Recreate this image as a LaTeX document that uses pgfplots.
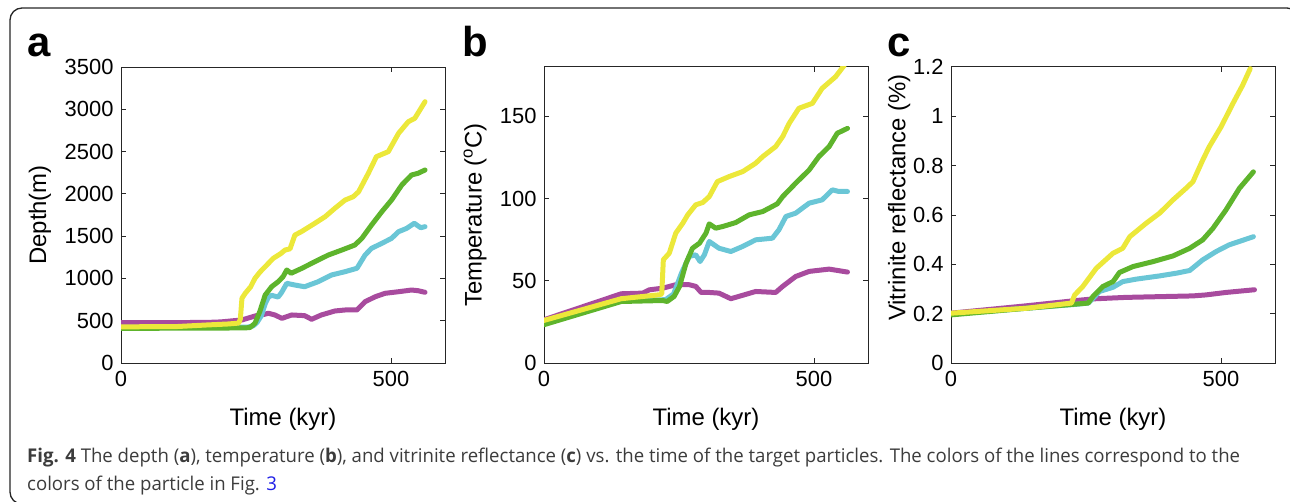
\documentclass[border=0pt]{standalone}
\usepackage{fontspec}
\setmainfont{Liberation Sans}
\newfontfamily\capfam{Open Sans}
\usepackage{graphicx}
\usepackage{pgfplots}
\pgfplotsset{compat=1.18}
\definecolor{cyel}{RGB}{236,232,58}
\definecolor{cgrn}{RGB}{94,180,44}
\definecolor{ccya}{RGB}{106,198,214}
\definecolor{cmag}{RGB}{168,75,158}
\definecolor{axcol}{RGB}{38,38,38}
\definecolor{capgray}{RGB}{60,60,60}
\definecolor{linkblue}{RGB}{30,30,230}
\newlength\capw
\newsavebox\capbox
\def\capfont{\capfam\fontsize{19}{22}\selectfont}
\def\lineone{\textbf{Fig. 4} The depth (\textbf{a}), temperature (\textbf{b}), and vitrinite reflectance (\textbf{c}) vs. the time of the target particles. The colors of the lines correspond to the}
\def\linetwo{colors of the particle in Fig. {\color{linkblue}3}}
\pgfplotsset{
  myax/.style={
    scale only axis, width=324bp, height=296bp,
    xmin=0, xmax=600, xtick={0,500},
    axis line style={draw=axcol, line width=1bp},
    every tick/.style={draw=axcol, line width=1bp},
    major tick length=5bp, tick align=inside,
    ticklabel style={font=\fontsize{22}{24}\selectfont, text=black},
    /pgf/number format/assume math mode=true,
    /pgf/number format/1000 sep={},
    xticklabel style={yshift=-5bp},
    yticklabel style={xshift=-4bp},
    label style={font=\fontsize{24}{28}\selectfont, text=black},
    xlabel={Time (kyr)},
    xlabel style={at={(axis description cs:0.5,-0.19)}, anchor=center},
    every axis plot/.append style={line width=5bp, line join=round, line cap=round},
  }
}
\begin{document}
\sbox\capbox{\capfont\lineone}%
\setlength\capw{\wd\capbox}%
\pgfmathsetmacro\capsx{1217.5/\the\capw}%
\begin{tikzpicture}[x=1bp,y=1bp]
\clip (0,0) rectangle (1290,-502);
\draw[line width=1.3bp, draw=axcol, rounded corners=12bp] (10,-8) rectangle (1299,-504);

% ---------- panel a ----------
\begin{axis}[myax, at={(121bp,-363bp)}, anchor=south west,
  ymin=0, ymax=3500, ytick={0,500,...,3500},
  ylabel={Depth(m)}, ylabel style={at={(axis description cs:-0.25,0.5)}, anchor=center}]
\addplot[cmag] coordinates {(0,478)(100,478)(160,480)(185,486)(195,492)(224,509)(240,540)(255,568)(265,575)(273,588)(285,568)(298,528)(316,568)(340,560)(353,517)(371,568)(396,615)(415,627)(437,627)(452,725)(471,784)(489,824)(514,843)(538,863)(550,855)(563,836)};
\addplot[ccya] coordinates {(0,420)(150,420)(235,425)(245,440)(252,480)(260,560)(267,700)(273,780)(279,800)(291,780)(297,830)(307,942)(322,922)(340,902)(365,961)(390,1041)(415,1080)(437,1120)(452,1277)(464,1356)(483,1415)(501,1474)(514,1553)(529,1592)(543,1652)(555,1600)(563,1612)};
\addplot[cgrn] coordinates {(0,410)(150,412)(230,415)(239,420)(248,469)(257,607)(267,804)(279,902)(291,961)(300,1020)(307,1100)(315,1061)(335,1120)(359,1198)(384,1277)(409,1336)(433,1395)(446,1474)(464,1632)(483,1789)(501,1927)(520,2105)(538,2223)(550,2243)(563,2282)};
\addplot[cyel] coordinates {(0,428)(100,430)(160,450)(200,462)(218,472)(221,520)(224,765)(230,824)(240,900)(248,1001)(258,1080)(267,1139)(282,1238)(295,1290)(304,1336)(313,1350)(322,1513)(334,1553)(359,1652)(378,1730)(396,1829)(415,1927)(430,1966)(440,2025)(458,2243)(473,2440)(495,2499)(514,2716)(532,2853)(544,2893)(563,3090)};
\end{axis}

% ---------- panel b ----------
\begin{axis}[myax, at={(544bp,-363bp)}, anchor=south west,
  ymin=0, ymax=180, ytick={0,50,100,150},
  ylabel={Temperature (\textsuperscript{o}C)}, ylabel style={at={(axis description cs:-0.213,0.5)}, anchor=center}]
\addplot[cmag] coordinates {(0,26.3)(143,42.1)(183,42.5)(195,44.5)(220,45.5)(244,47.6)(269,47.6)(281,46.6)(291,42.9)(306,42.9)(324,42.5)(346,39.1)(365,40.9)(392,43.5)(429,42.9)(442,46.6)(466,52.6)(491,55.7)(528,57.1)(562,55.3)};
\addplot[ccya] coordinates {(0,24)(143,38)(225,38.5)(240,42)(255,55)(269,64.8)(281,65.8)(289,61.7)(297,65.8)(306,73.9)(324,69.8)(346,67.8)(368,70.9)(392,74.9)(423,75.9)(435,81)(448,89.1)(466,91.1)(491,97.2)(515,99.2)(534,105.3)(546,104.3)(562,104.3)};
\addplot[cgrn] coordinates {(0,23.3)(143,37.4)(220,38)(228,37.4)(241,40.5)(251,46.6)(263,60.7)(275,69.8)(288,72.9)(300,79)(306,84.6)(318,82)(331,83)(355,85.4)(380,90.1)(405,92.1)(432,96.8)(442,101.2)(466,109.3)(491,117.4)(509,125.5)(528,131.6)(543,139.7)(562,142.7)};
\addplot[cyel] coordinates {(0,25.9)(143,39.1)(214,41.5)(218,42)(221,62.8)(232,66.8)(244,79)(257,85)(266,90)(281,96.2)(294,97.6)(306,101.2)(321,110.3)(343,113.4)(368,116.4)(392,121.5)(405,125.5)(429,131.6)(442,137.7)(454,145.7)(472,154.9)(497,157.9)(515,167)(540,174.1)(556,181)};
\end{axis}

% ---------- panel c ----------
\begin{axis}[myax, at={(951bp,-363bp)}, anchor=south west,
  ymin=0, ymax=1.2, ytick={0,0.2,0.4,0.6,0.8,1,1.2},
  yticklabels={0,0.2,0.4,0.6,0.8,1,1.2},
  ylabel={Vitrinite reflectance (\%)}, ylabel style={at={(axis description cs:-0.16,0.559)}, anchor=center}]
\addplot[cmag] coordinates {(0,0.202)(140,0.232)(226,0.252)(263,0.260)(324,0.266)(448,0.272)(472,0.276)(509,0.286)(562,0.297)};
\addplot[ccya] coordinates {(0,0.198)(140,0.222)(232,0.238)(254,0.243)(263,0.262)(275,0.290)(300,0.307)(318,0.330)(343,0.340)(386,0.353)(417,0.364)(442,0.375)(466,0.418)(491,0.452)(515,0.479)(560,0.512)};
\addplot[cgrn] coordinates {(0,0.195)(140,0.222)(232,0.239)(254,0.243)(263,0.270)(281,0.310)(300,0.330)(312,0.367)(337,0.391)(374,0.411)(411,0.434)(442,0.465)(466,0.499)(485,0.546)(509,0.620)(534,0.708)(560,0.775)};
\addplot[cyel] coordinates {(0,0.202)(140,0.222)(223,0.243)(229,0.276)(244,0.310)(269,0.384)(300,0.445)(318,0.465)(331,0.512)(361,0.566)(386,0.607)(411,0.661)(435,0.708)(448,0.735)(466,0.822)(478,0.876)(500,0.957)(522,1.052)(540,1.126)(554,1.193)};
\end{axis}

% panel letters
\node[anchor=base west, inner sep=0, font=\fontsize{42}{42}\selectfont\bfseries] at (27,-57) {a};
\node[anchor=base west, inner sep=0, font=\fontsize{42}{42}\selectfont\bfseries] at (462,-57) {b};
\node[anchor=base west, inner sep=0, font=\fontsize{42}{42}\selectfont\bfseries] at (887,-57) {c};

% caption
\node[anchor=base west, inner sep=0, text=capgray] at (27,-462) {\capfont\scalebox{\capsx}[1]{\lineone}};
\node[anchor=base west, inner sep=0, text=capgray] at (27,-490) {\capfont\scalebox{\capsx}[1]{\linetwo}};
\end{tikzpicture}
\end{document}
